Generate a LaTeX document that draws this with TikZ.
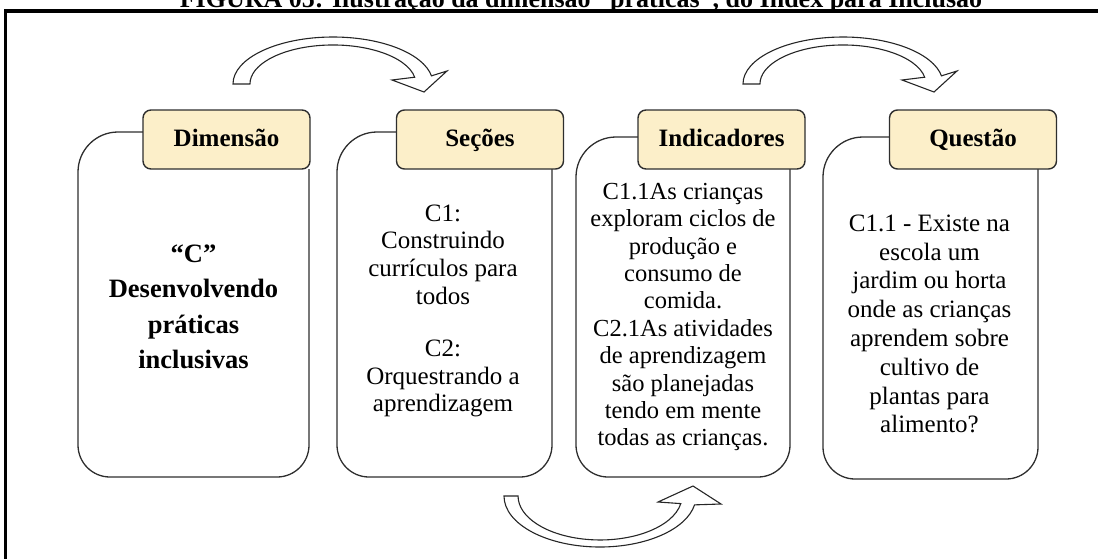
\documentclass[tikz,border=0pt]{standalone}
\usepackage{fontspec}
\setmainfont{Liberation Serif}
\definecolor{tabfill}{HTML}{FCEFC9}
\definecolor{linegray}{HTML}{2E2E2E}
\tikzset{
  bodyline/.style={draw=linegray, line width=1.3pt},
  tabbox/.style={draw=linegray, line width=1.4pt, fill=tabfill, rounded corners=8pt,
    minimum width=167pt, minimum height=59pt, inner sep=0pt, text height=17pt, text depth=3pt,
    font=\fontsize{25}{30}\selectfont\bfseries},
  arrowshape/.style={draw=black!85, line width=1.1pt, fill=white, line join=miter},
  txt/.style={align=center, inner sep=0pt},
}
\begin{document}
\begin{tikzpicture}[x=1pt,y=-1pt]
\useasboundingbox (0,0) rectangle (1098,558);
\clip (0,0) rectangle (1098,558);
% title (cut at the top as in the reference)
\node[anchor=base, font=\fontsize{26}{30}\selectfont\bfseries] (title) at (581,7)
  {FIGURA 05: Ilustração da dimensão "práticas", do Index para Inclusão};
% frame
\draw[line width=3.8pt] (1120,11) -- (5.5,11) -- (5.5,580);

% curved arrows
\draw[arrowshape] (233,84) arc[start angle=180,end angle=350,x radius=100,y radius=47]
  -- (447,71) -- (424,92) -- (392,80) -- (414.7,77.2)
  arc[start angle=350,end angle=180,x radius=83,y radius=39] -- cycle;
\draw[arrowshape] (743,84) arc[start angle=180,end angle=350,x radius=100,y radius=47]
  -- (957,71) -- (934,92) -- (902,80) -- (924.7,77.2)
  arc[start angle=350,end angle=180,x radius=83,y radius=39] -- cycle;
\draw[arrowshape] (504,496) arc[start angle=180,end angle=10,x radius=96,y radius=51]
  -- (721,504) -- (693,486) -- (658,502) -- (680.8,503.6)
  arc[start angle=10,end angle=180,x radius=82,y radius=44] -- cycle;

% bodies
\draw[bodyline] (309,169) -- (309,445) arc[start angle=0,end angle=90,radius=32]
  -- (110,477) arc[start angle=90,end angle=180,radius=32]
  -- (78,172) arc[start angle=180,end angle=270,radius=40] -- (143,132);
\draw[bodyline] (552,169) -- (552,445) arc[start angle=0,end angle=90,radius=32]
  -- (369,477) arc[start angle=90,end angle=180,radius=32]
  -- (337,172) arc[start angle=180,end angle=270,radius=40] -- (397,132);
\draw[bodyline] (790,169) -- (790,445) arc[start angle=0,end angle=90,radius=32]
  -- (608,477) arc[start angle=90,end angle=180,radius=32]
  -- (576,177) arc[start angle=180,end angle=270,radius=40] -- (638,137);
\draw[bodyline] (1038,169) -- (1038,447) arc[start angle=0,end angle=90,radius=32]
  -- (855,479) arc[start angle=90,end angle=180,radius=32]
  -- (823,177) arc[start angle=180,end angle=270,radius=40] -- (889,137);

% tabs
\node[tabbox] (t1) at (226.5,139.5) {Dimensão};
\node[tabbox] (t2) at (480,139.5) {Seções};
\node[tabbox] (t3) at (721.5,139.5) {Indicadores};
\node[tabbox] (t4) at (973,139.5) {Questão};

% texts
\node[txt, font=\fontsize{26.5}{35.5}\selectfont\bfseries] (d) at (193.5,307)
  {“C”\\Desenvolvendo\\práticas\\inclusivas};
\node[txt, font=\fontsize{25}{27.8}\selectfont] (s) at (443,311)
  {C1:\\Construindo\\currículos para\\todos\\[24pt]C2:\\Orquestrando a\\aprendizagem};
\node[txt, font=\fontsize{24.5}{27.4}\selectfont] (i) at (683,317)
  {C1.1As crianças\\exploram ciclos de\\produção e\\consumo de\\comida.\\C2.1As atividades\\de aprendizagem\\são planejadas\\tendo em mente\\todas as crianças.};
\node[txt, font=\fontsize{25}{28.8}\selectfont] (q) at (929.5,324)
  {C1.1 - Existe na\\escola um\\jardim ou horta\\onde as crianças\\aprendem sobre\\cultivo de\\plantas para\\alimento?};
\end{tikzpicture}
\end{document}
